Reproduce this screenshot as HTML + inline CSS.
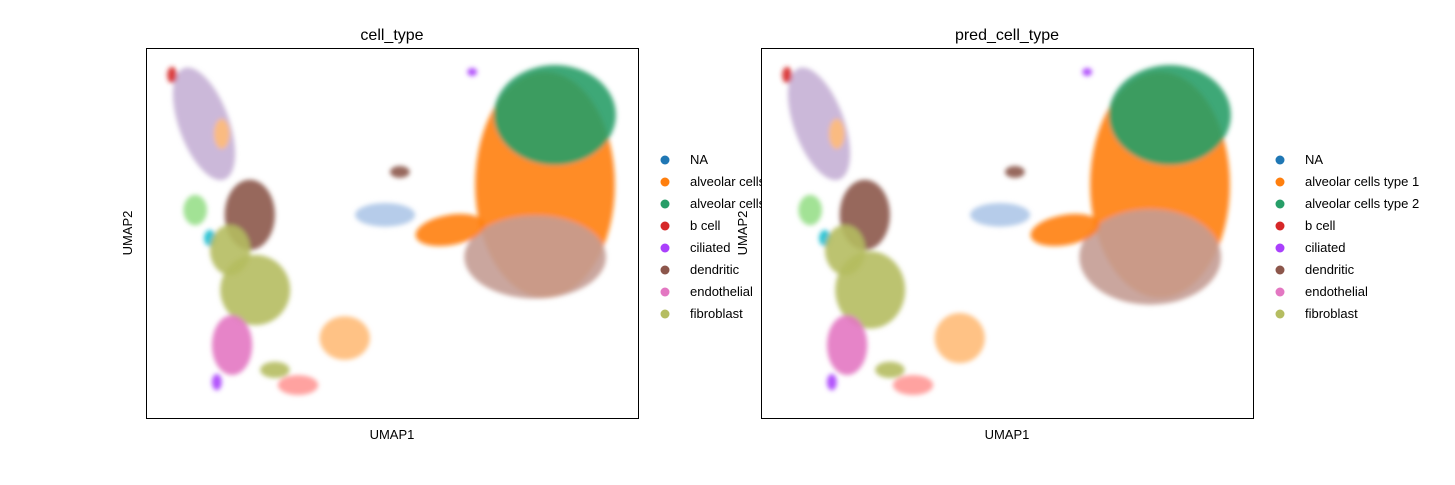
<!DOCTYPE html>
<html><head><meta charset="utf-8"><style>
body{margin:0;background:#fff;}
svg text{font-family:"Liberation Sans","DejaVu Sans",sans-serif;fill:#000;}
</style></head><body>
<svg id="chart" width="1455" height="480" xmlns="http://www.w3.org/2000/svg">
<defs><filter id="fz" x="-30%" y="-30%" width="160%" height="160%"><feGaussianBlur stdDeviation="2.5"/></filter></defs>
</svg>
<script>
// legend categories and colours
const categories = ["NA","alveolar cells type 1","alveolar cells type 2","b cell","ciliated","dendritic","endothelial","fibroblast"];
const catColors = ["#1f77b4","#ff7f0e","#279e68","#d62728","#aa40fc","#8c564b","#e377c2","#b5bd61"];
// cluster blobs in UMAP data units (0-100): centre x, centre y, spread x, spread y, colour
const clusterX =  [81.1,83.1,79.1,61.8,48.6,51.6,11.8,5.3,66.3,10.0,13.0,21.1,17.1,22.2,17.5,14.4,30.9,40.4,26.2,15.4];
const clusterY =  [63.0,81.9,43.5,50.8,54.9,66.5,79.5,92.7,93.5,56.2,48.6,54.9,45.4,34.6,19.7,9.7,8.9,21.6,13.0,76.8];
const clusterSX = [14.2,12.4,14.4,7.1,6.1,2.0,5.1,1.0,1.0,2.4,1.2,5.1,4.1,7.1,4.1,1.0,4.1,5.1,3.0,1.6];
const clusterSY = [30.5,13.5,11.2,4.1,3.2,1.6,16.0,2.2,1.1,4.1,2.2,9.5,6.8,9.5,8.1,2.2,2.7,5.9,2.2,4.1];
const clusterRot =[0,0,0,-10,0,0,-20,0,0,0,0,0,0,0,0,0,0,0,0,0];
const clusterCol = ["#ff7f0e","#279e68","#c49c94","#ff7f0e","#aec7e8","#8c564b","#c5b0d5","#d62728","#aa40fc","#98df8a","#17becf","#8c564b","#b5bd61","#b5bd61","#e377c2","#aa40fc","#ff9896","#ffbb78","#b5bd61","#ffbb78"];
const predScaleSY = [1,1,1.15,1,1,1,1,1,1,1,1,1,1,1.1,1,1,1,1.15,1,1];

const NS="http://www.w3.org/2000/svg";
const svg=document.getElementById('chart');
function mk(tag,attrs,parent){const e=document.createElementNS(NS,tag);for(const k in attrs)e.setAttribute(k,attrs[k]);(parent||svg).appendChild(e);return e;}

function drawPanel(x0,title,scaleSY,legendX,pname){
  const W=492,H=370,y0=48;
  const sx=v=>x0+v/100*W, sy=v=>y0+H-v/100*H;
  const g=mk('g',{});
  
  
  const bg=mk('rect',{x:x0,y:y0,width:W,height:H,fill:'#fff'},g);
  
  
  const cg=mk('g',{filter:'url(#fz)'},g);
  for(let i=0;i<clusterX.length;i++){
    const cx=sx(clusterX[i]),cy=sy(clusterY[i]);
    const rx=clusterSX[i]/100*W, ry=clusterSY[i]*scaleSY[i]/100*H;
    const e=mk('ellipse',{cx:cx,cy:cy,rx:rx,ry:ry,fill:clusterCol[i],opacity:0.9,transform:`rotate(${clusterRot[i]} ${cx} ${cy})`},cg);
    
    
  }
  const fr=mk('rect',{x:x0+0.5,y:y0+0.5,width:W,height:H,fill:'none',stroke:'#000','stroke-width':1},g);
  
  
  const t=mk('text',{x:x0+W/2,y:40,'text-anchor':'middle','font-size':16},g);t.textContent=title;
  
  
  const xl=mk('text',{x:x0+W/2,y:439,'text-anchor':'middle','font-size':13},g);xl.textContent='UMAP1';
  
  
  const yl=mk('text',{x:x0-14,y:y0+H/2,'text-anchor':'middle','font-size':13,transform:`rotate(-90 ${x0-14} ${y0+H/2})`},g);yl.textContent='UMAP2';
  
  
  for(let i=0;i<categories.length;i++){
    const y=159+22*i;
    const lg=mk('g',{});
    
    
    mk('circle',{cx:legendX,cy:y+1,r:4.5,fill:catColors[i]},lg);
    const tx=mk('text',{x:legendX+25,y:y+5,'font-size':13},lg);tx.textContent=categories[i];
  }
}
drawPanel(146,'cell_type',clusterSX.map(()=>1),665,'left');
drawPanel(761,'pred_cell_type',predScaleSY,1280,'right');
</script>
</body></html>
